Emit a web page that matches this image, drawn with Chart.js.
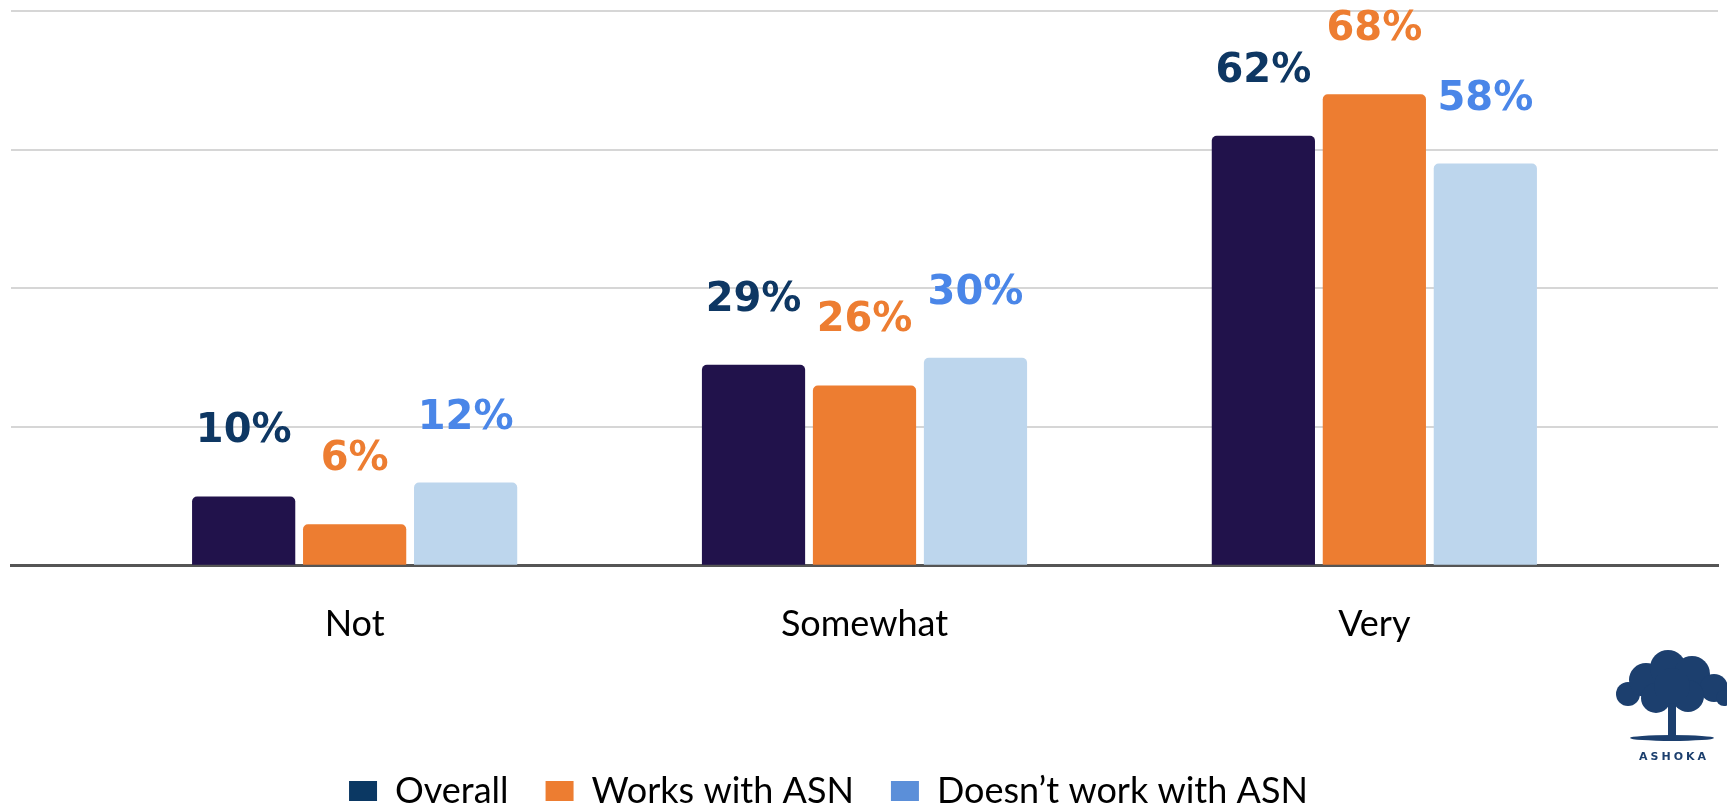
<!DOCTYPE html>
<html>
<head>
<meta charset="utf-8">
<script src="https://cdn.jsdelivr.net/npm/chart.js@4/dist/chart.umd.min.js"></script>
<style>
  html, body { margin: 0; padding: 0; background: #fff; }
  #wrap { position: relative; width: 1727px; height: 808px; }
</style>
</head>
<body>
<div id="wrap"><canvas id="chart"></canvas></div>
<script>
// categories and series (percent)
const categories = ['Not', 'Somewhat', 'Very']
const seriesNames = ['Overall', 'Works with ASN', 'Doesn\u2019t work with ASN']
const overall = [10, 29, 62]
const worksWithASN = [6, 26, 68]
const notWithASN = [12, 30, 58]

// colours: bars, legend swatches, value labels
const barColors = ['#21124b', '#ed7d31', '#bdd6ed']
const legendColors = ['#0b3863', '#ed7d31', '#5b8fd9']
const labelColors = ['#0e3763', '#ed7d31', '#4a86e8']

const seriesValues = [overall, worksWithASN, notWithASN]

// value labels over every bar
const valueLabels = {
    id: 'valueLabels',
    afterDatasetsDraw(chart) {
        const ctx = chart.ctx
        ctx.save()
        ctx.font = 'bold 40px "DejaVu Sans"'
        ctx.textAlign = 'center'
        ctx.textBaseline = 'alphabetic'
        chart.data.datasets.forEach((ds, i) => {
            chart.getDatasetMeta(i).data.forEach((bar, j) => {
                ctx.fillStyle = labelColors[i]
                ctx.fillText(ds.data[j].y + '%', bar.x, bar.y - 54)
            })
        })
        ctx.restore()
    }
}

// legend sits a bit left of centre in the original
const legendShift = {
    id: 'legendShift',
    afterLayout(chart) {
        chart.legend.left -= 36
        chart.legend.right -= 36
    }
}

// little Ashoka mark in the bottom right corner
const logo = {
    id: 'logo',
    afterDraw(chart) {
        const ctx = chart.ctx
        const cx = 1672, cy = 688
        ctx.save()
        ctx.fillStyle = '#1c3f6e'
        // trunk
        ctx.fillRect(cx - 4, cy + 10, 8, 40)
        ctx.beginPath()
        ctx.ellipse(cx, cy + 50, 42, 3, 0, 0, Math.PI * 2)
        ctx.fill()
        // canopy
        const blobs = [[-44, 6, 12], [-26, -8, 17], [-4, -20, 18], [20, -14, 18], [42, 0, 14], [-16, 10, 15], [16, 8, 16], [0, -2, 18], [52, 10, 8]]
        blobs.forEach(b => {
            ctx.beginPath()
            ctx.arc(cx + b[0], cy + b[1], b[2], 0, Math.PI * 2)
            ctx.fill()
        })
        ctx.font = 'bold 11px "DejaVu Sans"'
        ctx.textAlign = 'center'
        ctx.textBaseline = 'middle'
        ctx.letterSpacing = '3px'
        ctx.fillText('ASHOKA', cx + 2, 757)
        ctx.restore()
    }
}

const ctx = document.getElementById('chart')
const chart = new Chart(ctx, {
    type: 'bar',
    data: {
        datasets: seriesNames.map((name, i) => ({
            label: name,
            data: seriesValues[i].map((v, j) => ({ x: j, y: v })),
            backgroundColor: barColors[i],
            borderRadius: 5,
            borderSkipped: 'start'
        }))
    },
    options: {
        responsive: true,
        maintainAspectRatio: false,
        animation: false,
        layout: {
            padding: { top: 11, left: 11, right: 9, bottom: -11 }
        },
        datasets: {
            bar: {
                categoryPercentage: 0.653,
                barPercentage: 0.93
            }
        },
        scales: {
            x: {
                type: 'linear',
                offset: false,
                bounds: 'data',
                min: -0.674,
                max: categories.length - 1 + 0.674,
                afterBuildTicks: axis => {
                    axis.ticks = categories.map((c, i) => ({ value: i }))
                },
                afterFit: axis => {
                    axis.height += 61
                },
                grid: { display: false, offset: false },
                border: { display: true, color: '#555555', width: 3 },
                ticks: {
                    callback: v => categories[v],
                    color: '#000',
                    padding: 29,
                    font: { family: 'Lato', size: 36 }
                }
            },
            y: {
                min: 0,
                max: 80,
                ticks: { stepSize: 20, display: false },
                grid: { color: '#d6d6d6', lineWidth: 2, drawTicks: false },
                border: { display: false }
            }
        },
        plugins: {
            legend: {
                position: 'bottom',
                labels: {
                    boxWidth: 28,
                    boxHeight: 20,
                    padding: 37,
                    color: '#000',
                    font: { family: 'Lato', size: 36 },
                    generateLabels: chart => chart.data.datasets.map((ds, i) => ({
                        text: ds.label,
                        fillStyle: legendColors[i],
                        strokeStyle: legendColors[i],
                        lineWidth: 0,
                        hidden: false,
                        datasetIndex: i
                    }))
                }
            },
            tooltip: { enabled: false }
        }
    },
    plugins: [valueLabels, legendShift, logo]
})
</script>
</body>
</html>
